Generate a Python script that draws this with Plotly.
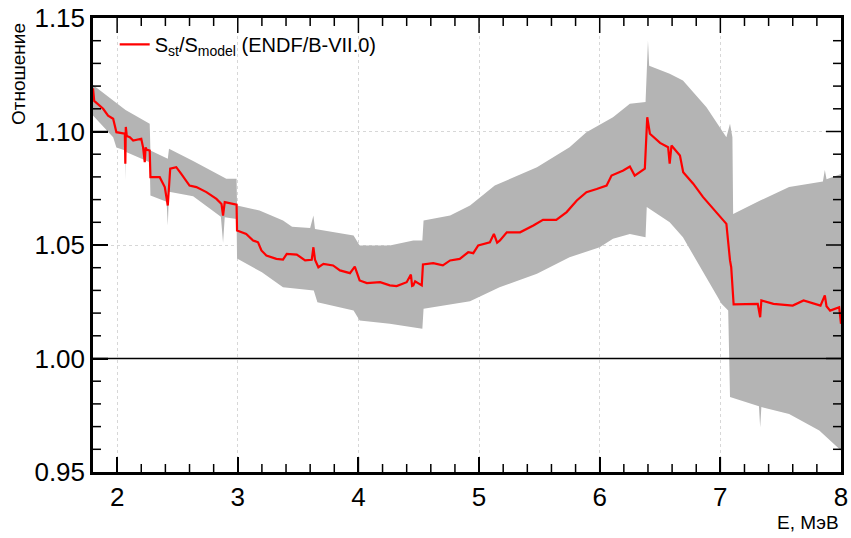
import plotly.graph_objects as go

# Ratio S_st/S_model (red line)
E_ratio = [1.800, 1.810, 1.884, 1.925, 1.967, 1.994, 2.064, 2.068, 2.072, 2.080, 2.105, 2.133,
           2.200, 2.215, 2.229, 2.236, 2.243, 2.270, 2.276, 2.353, 2.395, 2.420, 2.440, 2.490,
           2.530, 2.600, 2.657, 2.740, 2.823, 2.865, 2.878, 2.892, 2.990, 2.994, 3.070, 3.127,
           3.168, 3.196, 3.237, 3.320, 3.375, 3.406, 3.489, 3.558, 3.613, 3.627, 3.640, 3.668,
           3.710, 3.790, 3.847, 3.930, 3.970, 4.010, 4.070, 4.180, 4.260, 4.317, 4.400, 4.435,
           4.445, 4.455, 4.470, 4.525, 4.535, 4.620, 4.700, 4.760, 4.840, 4.910, 4.952, 4.993,
           5.090, 5.123, 5.150, 5.173, 5.230, 5.340, 5.450, 5.530, 5.640, 5.726, 5.810, 5.890,
           5.975, 6.057, 6.098, 6.195, 6.250, 6.290, 6.374, 6.394, 6.416, 6.500, 6.567, 6.580,
           6.595, 6.665, 6.692, 6.775, 6.857, 6.940, 7.050, 7.080, 7.090, 7.110, 7.217, 7.310,
           7.330, 7.340, 7.440, 7.600, 7.690, 7.830, 7.866, 7.880, 7.910, 7.985, 8.000]
ratio = [1.1190, 1.1135, 1.1100, 1.1070, 1.1056, 1.0997, 1.0990, 1.0858, 1.1020, 1.0980, 1.0975, 1.0960,
         1.0968, 1.0930, 1.0865, 1.0930, 1.0920, 1.0916, 1.0799, 1.0799, 1.0755, 1.0674, 1.0836, 1.0843,
         1.0814, 1.0762, 1.0755, 1.0733, 1.0703, 1.0681, 1.0630, 1.0689, 1.0678, 1.0564, 1.0549, 1.0520,
         1.0512, 1.0476, 1.0454, 1.0439, 1.0436, 1.0461, 1.0458, 1.0432, 1.0435, 1.0490, 1.0435, 1.0402,
         1.0417, 1.0410, 1.0388, 1.0376, 1.0405, 1.0344, 1.0332, 1.0336, 1.0322, 1.0319, 1.0336, 1.0370,
         1.0320, 1.0322, 1.0340, 1.0322, 1.0414, 1.0420, 1.0410, 1.0432, 1.0439, 1.0468, 1.0464, 1.0498,
         1.0512, 1.0549, 1.0510, 1.0520, 1.0556, 1.0556, 1.0586, 1.0611, 1.0611, 1.0645, 1.0696, 1.0733,
         1.0747, 1.0762, 1.0806, 1.0828, 1.0846, 1.0806, 1.0836, 1.1063, 1.0990, 1.0950, 1.0931, 1.0858,
         1.0938, 1.0894, 1.0821, 1.0770, 1.0711, 1.0659, 1.0593, 1.0432, 1.0402, 1.0238, 1.0241, 1.0241,
         1.0182, 1.0256, 1.0241, 1.0233, 1.0256, 1.0233, 1.0278, 1.0230, 1.0211, 1.0226, 1.0153]

# Upper edge of the uncertainty band
E_upper = [1.800, 1.967, 2.070, 2.270, 2.276, 2.420, 2.430, 2.630, 2.905, 2.990, 2.994, 3.180,
           3.375, 3.450, 3.600, 3.627, 3.640, 3.960, 4.010, 4.260, 4.455, 4.530, 4.540, 4.760,
           4.925, 5.130, 5.480, 5.750, 5.890, 6.110, 6.250, 6.380, 6.390, 6.400, 6.410, 6.580,
           6.690, 6.885, 7.050, 7.080, 7.100, 7.106, 7.330, 7.570, 7.850, 7.866, 7.880, 8.000]
upper = [1.1205, 1.1137, 1.1095, 1.1034, 1.0916, 1.0880, 1.0924, 1.0870, 1.0792, 1.0792, 1.0674, 1.0652,
         1.0608, 1.0580, 1.0575, 1.0630, 1.0571, 1.0542, 1.0498, 1.0498, 1.0520, 1.0520, 1.0608, 1.0630,
         1.0674, 1.0762, 1.0843, 1.0931, 1.0997, 1.1063, 1.1122, 1.1130, 1.1283, 1.1400, 1.1290, 1.1254,
         1.1225, 1.1107, 1.0975, 1.1034, 1.0975, 1.0637, 1.0696, 1.0755, 1.0780, 1.0830, 1.0790, 1.0813]

# Lower edge of the uncertainty band
E_lower = [1.800, 1.967, 1.994, 2.068, 2.070, 2.074, 2.270, 2.276, 2.410, 2.420, 2.430, 2.630,
           2.860, 2.878, 2.892, 2.990, 2.994, 3.200, 3.375, 3.630, 3.660, 3.960, 4.010, 4.260,
           4.530, 4.540, 4.925, 5.170, 5.480, 5.750, 6.000, 6.110, 6.250, 6.380, 6.390, 6.580,
           6.690, 6.885, 7.010, 7.065, 7.080, 7.320, 7.330, 7.340, 7.570, 7.820, 8.000]
lower = [1.1070, 1.0975, 1.0930, 1.0916, 1.0784, 1.0910, 1.0865, 1.0718, 1.0690, 1.0586, 1.0735, 1.0715,
         1.0625, 1.0510, 1.0622, 1.0615, 1.0440, 1.0380, 1.0314, 1.0300, 1.0248, 1.0211, 1.0167, 1.0153,
         1.0131, 1.0219, 1.0252, 1.0314, 1.0373, 1.0446, 1.0490, 1.0527, 1.0549, 1.0534, 1.0667, 1.0600,
         1.0534, 1.0358, 1.0241, 1.0211, 0.9830, 0.9790, 0.9697, 0.9786, 0.9756, 0.9683, 0.9595]

# Axis ranges and tick positions (axis decoration)
X_RANGE = [1.8, 8.0]
Y_RANGE = [0.95, 1.15]
x_major = [2, 3, 4, 5, 6, 7]
x_minor = [round(2.0 + 0.2 * i, 1) for i in range(30) if i % 5 != 0]
y_major = [1.00, 1.05, 1.10]
y_minor = [round(0.95 + 0.01 * i, 2) for i in range(1, 20) if i % 5 != 0]

FONT = "Liberation Sans, Arial, Helvetica, sans-serif"
W, H = 851, 538
MARGIN = dict(l=93, r=10, t=18, b=66)
PLOT_W = W - MARGIN["l"] - MARGIN["r"]
PLOT_H = H - MARGIN["t"] - MARGIN["b"]
MAJ_PX, MIN_PX = 15, 8
# pixel tick lengths expressed in axis units
dy_per_px = (Y_RANGE[1] - Y_RANGE[0]) / PLOT_H
dx_per_px = (X_RANGE[1] - X_RANGE[0]) / PLOT_W

tick_x, tick_y = [], []
for xv, ln in [(v, MAJ_PX) for v in x_major] + [(v, MIN_PX) for v in x_minor]:
    tick_x += [xv, xv, None, xv, xv, None]
    tick_y += [Y_RANGE[0], Y_RANGE[0] + ln * dy_per_px, None,
               Y_RANGE[1], Y_RANGE[1] - ln * dy_per_px, None]
for yv, ln in [(v, MAJ_PX) for v in y_major] + [(v, MIN_PX) for v in y_minor]:
    tick_x += [X_RANGE[0], X_RANGE[0] + ln * dx_per_px, None,
               X_RANGE[1], X_RANGE[1] - ln * dx_per_px, None]
    tick_y += [yv, yv, None, yv, yv, None]

fig = go.Figure()

fig.add_trace(go.Scatter(
    x=E_upper + E_lower[::-1],
    y=upper + lower[::-1],
    fill="toself",
    fillcolor="rgb(180,180,180)",
    line=dict(width=0, color="rgb(180,180,180)"),
    mode="lines",
    showlegend=False,
    hoverinfo="skip",
))

fig.add_trace(go.Scatter(
    x=E_ratio, y=ratio, mode="lines",
    line=dict(color="#ff0000", width=2.2),
    name="S<sub>st</sub>/S<sub>model</sub> (ENDF/B-VII.0)",
))

fig.add_trace(go.Scatter(
    x=tick_x, y=tick_y, mode="lines",
    line=dict(color="black", width=1.5),
    showlegend=False, hoverinfo="skip",
))

fig.add_shape(type="line", xref="paper", yref="y", x0=0, x1=1, y0=1.0, y1=1.0,
              line=dict(color="black", width=1.5), layer="above")

axis_common = dict(
    showline=True, linecolor="#000000", linewidth=2.5, mirror=True,
    ticks="inside", tickcolor="#000000", tickwidth=1.5, ticklen=MAJ_PX,
    showgrid=True, gridcolor="rgb(215,215,215)", griddash="dot", gridwidth=1,
    zeroline=False, automargin=False,
    tickfont=dict(family=FONT, size=26, color="black"),
)

fig.update_xaxes(range=X_RANGE, tickmode="linear", tick0=2, dtick=1, **axis_common)
fig.update_yaxes(range=Y_RANGE, tickmode="linear", tick0=0.95, dtick=0.05,
                 tickformat=".2f", **axis_common)

fig.add_annotation(text="Отношение", xref="paper", yref="paper", x=-0.1003, y=1.0,
                   xanchor="center", yanchor="top", textangle=-90, showarrow=False,
                   yshift=-3, font=dict(family=FONT, size=19, color="black"))
fig.add_annotation(text="E, МэВ", xref="paper", yref="paper", x=1.0, y=0.0,
                   xanchor="right", yanchor="middle", showarrow=False,
                   yshift=-50, font=dict(family=FONT, size=19, color="black"))

fig.update_layout(
    width=W, height=H,
    margin=MARGIN,
    paper_bgcolor="white", plot_bgcolor="white",
    font=dict(family=FONT, color="black"),
    showlegend=True,
    legend=dict(x=0.029, y=0.985, xanchor="left", yanchor="top",
                bgcolor="rgba(255,255,255,0)", borderwidth=0,
                font=dict(family=FONT, size=20, color="black")),
)

fig.write_html("out.html")
